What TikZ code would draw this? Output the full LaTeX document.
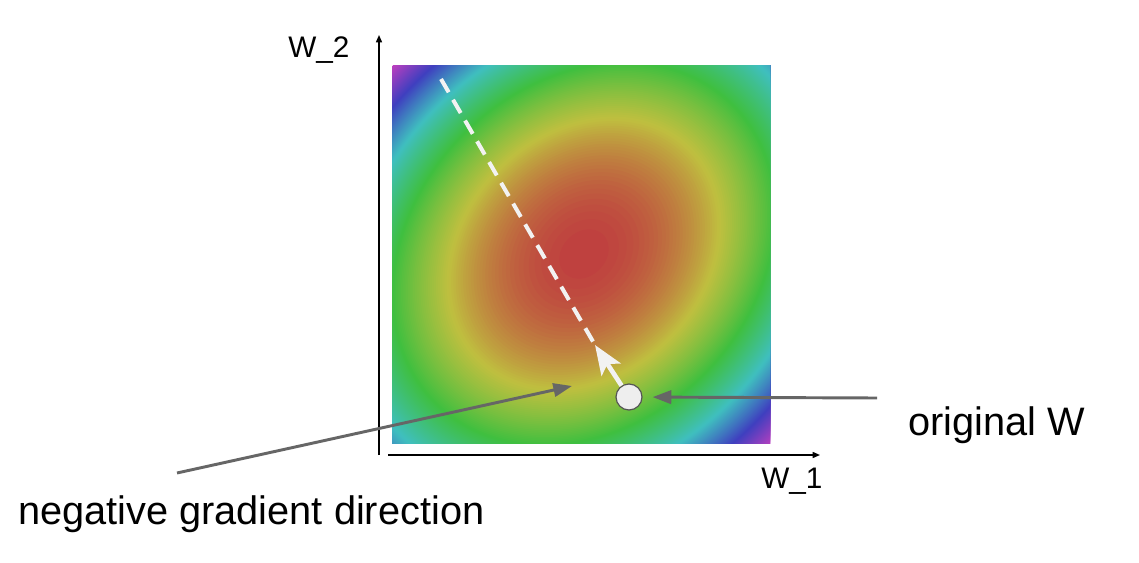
\documentclass[tikz,border=0pt]{standalone}
\usepackage{fontspec}
\setmainfont{Liberation Sans}
\usetikzlibrary{arrows.meta}
\definecolor{pointergray}{HTML}{666666}
\definecolor{markfill}{HTML}{EEEEEE}
\definecolor{markedge}{HTML}{555555}
\definecolor{stepwhite}{HTML}{F2F2F2}
\definecolor{basemagenta}{hsb}{0.8333,0.67,0.75}

\begin{document}
\begin{tikzpicture}[x=0.75pt,y=0.75pt,
    axisline/.style={black,line width=1.1pt,-{Triangle[length=5.5pt,width=4.5pt]}},
    pointer/.style={pointergray,line width=2.2pt,-{Triangle[length=14pt,width=10pt]}},
    bigtext/.style={font=\fontsize{29.8}{35}\selectfont,anchor=base west,inner sep=0pt},
    smalltext/.style={font=\fontsize{22.3}{26}\selectfont,anchor=base west,inner sep=0pt}]
          \useasboundingbox (0,0) rectangle (1139,562);

          \coordinate (C) at (584,308);
          \begin{scope}
            \clip (392,119) rectangle (770,496);
            \fill[basemagenta] (392,119) rectangle (770,496);
            \foreach \h in {300,298,...,2}{
              \pgfmathsetmacro\hv{(\h-1)/360}
              \pgfmathsetmacro\ru{19.2*sqrt(\h)}
              \pgfmathsetmacro\rv{15.5*sqrt(\h)}
              \definecolor{heat}{hsb}{\hv,0.67,0.75}
              \fill[heat,rotate around={45:(C)}] (C) ellipse [x radius=\ru, y radius=\rv];
            }
          \end{scope}

          \coordinate (yaxbot) at (379,107);
          \coordinate (yaxtop) at (379,527);
          \coordinate (xaxleft) at (388,107);
          \coordinate (xaxright) at (820,107);
          \draw[axisline] (yaxbot) -- (yaxtop);
          \draw[axisline] (xaxleft) -- (xaxright);

          \coordinate (dashtop) at (441,483);
          \coordinate (steptip) at (595,217);
          \node[circle,fill=markfill,draw=markedge,line width=0.9pt,minimum size=19.5pt,inner sep=0pt] (origW) at (629,165) {};
          \draw[stepwhite,line width=3pt,dash pattern=on 11.5pt off 6.5pt] (dashtop) -- (steptip);
          \draw[stepwhite,line width=3.5pt,-{Stealth[length=22pt,width=17pt,inset=5pt]}] (origW) -- (steptip);

          \node[smalltext] (w2) at (288,504) {W\_2};
          \node[smalltext] (w1) at (761,74) {W\_1};
          \node[bigtext] (origlabel) at (908,127) {original W};
          \node[bigtext] (neglabel) at (18,38) {negative gradient direction};

          \coordinate (origtail) at (877,164);
          \coordinate (negtail) at (177,89);
          \coordinate (negtip) at (572,176);
          \draw[pointer,shorten >=7.5pt] (origtail) -- (origW);
          \draw[pointer] (negtail) -- (negtip);

          \end{tikzpicture}
\end{document}
